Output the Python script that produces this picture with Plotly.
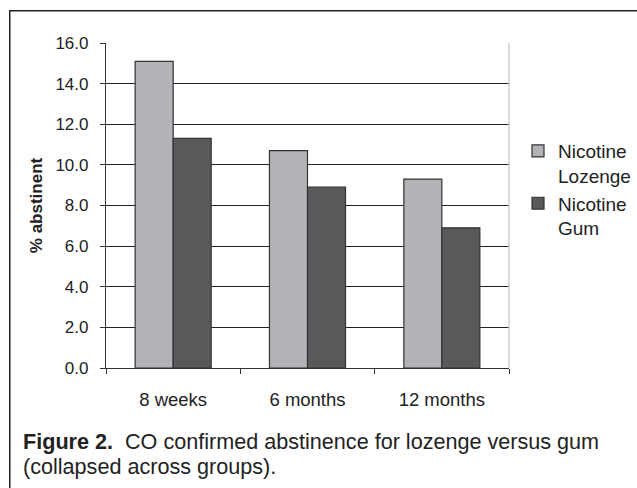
import plotly.graph_objects as go

categories = ["8 weeks", "6 months", "12 months"]
lozenge = [15.1, 10.7, 9.3]
gum = [11.3, 8.9, 6.9]
series_names = ["Nicotine<br>Lozenge", "Nicotine<br>Gum"]
y_ticks = [0, 2, 4, 6, 8, 10, 12, 14, 16]
caption_lines = ["<b>Figure 2.</b>\u00a0 CO confirmed abstinence for lozenge versus gum",
                 "(collapsed across groups)."]

W, H = 637, 488
L, R, T, B = 106, 128, 43, 120
pw, ph = W - L - R, H - T - B

def px(x):
    return (x - L) / pw

def py(y):
    return (H - B - y) / ph

FONT = "Arial, Liberation Sans, sans-serif"

fig = go.Figure()
fig.add_trace(go.Bar(x=categories, y=lozenge, name=series_names[0],
                     marker=dict(color="#b2b3b6", line=dict(color="#333333", width=1.2))))
fig.add_trace(go.Bar(x=categories, y=gum, name=series_names[1],
                     marker=dict(color="#58595b", line=dict(color="#333333", width=1.2))))

annotations = [
    dict(xref="paper", yref="paper", x=px(21), y=py(yc), xanchor="left", yanchor="middle",
         align="left", showarrow=False, text=t,
         font=dict(size=21.6, family=FONT, color="#222222"))
    for t, yc in zip(caption_lines, [441, 467])
]
# outer frame (left and top visible; right/bottom fall outside the page)
annotations.append(dict(xref="paper", yref="paper", x=px(9), y=py(10), xanchor="left", yanchor="top",
                        showarrow=False, text=" ", width=660, height=510, borderpad=0,
                        bordercolor="#222222", borderwidth=1.5))

fig.update_layout(
    width=W, height=H,
    margin=dict(l=L, r=R, t=T, b=B, autoexpand=False),
    paper_bgcolor="white", plot_bgcolor="white",
    barmode="group", bargap=0.434, bargroupgap=0,
    font=dict(family=FONT, color="#222222"),
    showlegend=True,
    legend=dict(x=px(518), y=py(132), xanchor="left", yanchor="top",
                font=dict(size=19, family=FONT, color="#222222"),
                valign="top", itemwidth=30, tracegroupgap=2, borderwidth=0,
                bgcolor="rgba(0,0,0,0)"),
    xaxis=dict(type="category", showgrid=False, showline=True, linecolor="#333333",
               linewidth=1.2, ticks="outside", ticklen=5, tickcolor="#333333",
               tickson="boundaries", tickfont=dict(size=18.5, family=FONT, color="#222222"),
               ticklabelstandoff=15),
    yaxis=dict(range=[0, 16], tickvals=y_ticks, tickformat=".1f", showgrid=True,
               gridcolor="#222222", gridwidth=1, showline=True, linecolor="#333333",
               linewidth=1.2, ticks="outside", ticklen=5, tickcolor="#333333",
               tickfont=dict(size=17, family=FONT, color="#222222"),
               ticklabelstandoff=8, zeroline=False,
               title=dict(text="<b>% abstinent</b>", font=dict(size=17, family=FONT, color="#222222"),
                          standoff=8)),
    shapes=[
        dict(type="line", xref="paper", yref="paper", x0=1, x1=1, y0=0, y1=1,
             line=dict(color="#c4c4c4", width=1.2)),
    ],
    annotations=annotations,
)

fig.write_html("out.html", config={"displayModeBar": False},
               post_script="document.body.style.margin='0';")
